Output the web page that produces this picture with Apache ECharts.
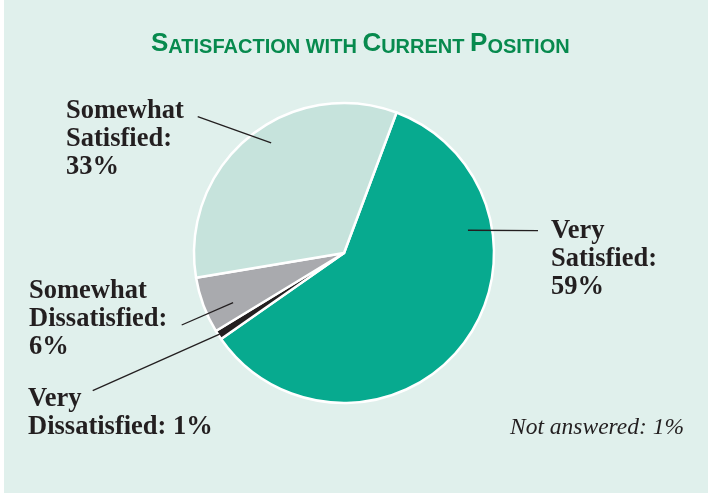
<!DOCTYPE html>
<html>
<head>
<meta charset="utf-8">
<script src="https://cdn.jsdelivr.net/npm/echarts@6/dist/echarts.min.js"></script>
<style>
  html, body { margin: 0; padding: 0; background: #ffffff; }
  #chart { width: 708px; height: 493px; background: linear-gradient(to right, #ffffff 4px, #e0f0ec 4px); }
</style>
</head>
<body>
<div id="chart"></div>
<script>
// ---- data ----
const categories = ['Very Satisfied', 'Very Dissatisfied', 'Somewhat Dissatisfied', 'Somewhat Satisfied'];
const percents = [59, 1, 6, 33];
const sliceColors = ['#07aa8f', '#231f20', '#a9aaae', '#c6e3dc'];
const notAnsweredText = 'Not answered: 1%';

// ---- layout constants (pixels) ----
const CX = 344, CY = 253, R = 150;
const START_ANGLE = 69.5; // echarts: degrees ccw from 3 o'clock
// label box top-left
const labelPos = [[551, 217], [28, 385], [29, 277], [66, 97]];
// outer end of leader line
const lineOuter = [[538, 230.7], [92.7, 390.7], [181.7, 325], [197.7, 116.7]];
// where the leader line meets the slice: fraction through slice angle, fraction of radius
const lineAnchor = [[0.2755, 0.84], [0.5, 0.99], [0.33, 0.81], [0.55, 0.88]];

const total = percents.reduce((a, b) => a + b, 0);
const cumStart = [];
let acc = 0;
percents.forEach(v => { cumStart.push(acc); acc += v; });

function anchorPoint(i) {
  const startCw = 90 - START_ANGLE; // clockwise from top
  const a0 = startCw + cumStart[i] / total * 360;
  const span = percents[i] / total * 360;
  const th = (a0 + span * lineAnchor[i][0]) * Math.PI / 180;
  const r = R * lineAnchor[i][1];
  return [CX + r * Math.sin(th), CY - r * Math.cos(th)];
}

function labelText(i) {
  const parts = categories[i].split(' ');
  const sep = (i === 1) ? ' ' : '\n';
  return parts[0] + '\n' + parts[1] + ':' + sep + percents[i] + '%';
}

const leaderLines = categories.map((c, i) => ({
  type: 'polyline',
  z: 100,
  silent: true,
  shape: { points: [anchorPoint(i), lineOuter[i]] },
  style: { stroke: '#231f20', lineWidth: 1.3, fill: null }
}));

const chart = echarts.init(document.getElementById('chart'), null, { renderer: 'canvas' });

chart.setOption({
  backgroundColor: 'transparent',
  animation: false,
  title: [
    {
      text: '{b|S}{s|ATISFACTION WITH }{b|C}{s|URRENT }{b|P}{s|OSITION}',
      left: 146,
      top: 22,
      textStyle: {
        rich: {
          b: { fontFamily: 'Liberation Sans', fontWeight: 'bold', fontSize: 26, color: '#078a4e', verticalAlign: 'bottom', lineHeight: 30 },
          s: { fontFamily: 'Liberation Sans', fontWeight: 'bold', fontSize: 20, color: '#078a4e', verticalAlign: 'bottom', lineHeight: 30 }
        }
      }
    },
    {
      text: notAnsweredText,
      left: 505,
      top: 411,
      textStyle: { fontFamily: 'Liberation Serif', fontStyle: 'italic', fontWeight: 'normal', fontSize: 23.5, color: '#231f20' }
    }
  ],
  graphic: leaderLines,
  series: [{
    type: 'pie',
    center: [CX, CY],
    radius: R,
    startAngle: START_ANGLE,
    clockwise: true,
    avoidLabelOverlap: false,
    silent: true,
    itemStyle: { borderColor: '#ffffff', borderWidth: 2.5 },
    label: {
      show: true,
      position: 'outside',
      formatter: p => labelText(p.dataIndex),
      fontFamily: 'Liberation Serif',
      fontWeight: 'bold',
      fontSize: 26.5,
      lineHeight: 28,
      color: '#231f20',
      align: 'left'
    },
    labelLine: { show: false },
    labelLayout: function (params) {
      const i = params.dataIndex;
      return {
        x: labelPos[i][0],
        y: labelPos[i][1],
        align: 'left',
        verticalAlign: 'top'
      };
    },
    data: categories.map((c, i) => ({ name: c, value: percents[i], itemStyle: { color: sliceColors[i] } }))
  }]
});
</script>
</body>
</html>
